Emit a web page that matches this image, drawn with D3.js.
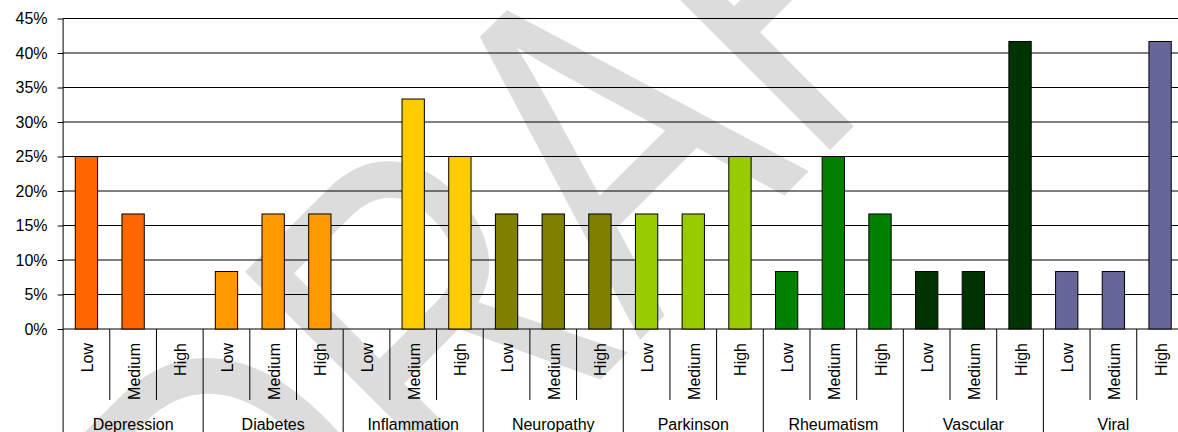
<!DOCTYPE html>
<html>
<head>
<meta charset="utf-8">
<script src="https://cdn.jsdelivr.net/npm/d3@7/dist/d3.min.js"></script>
<style>
  body { margin: 0; background: #fff; }
  text { font-family: "Liberation Sans", Arial, sans-serif; }
</style>
</head>
<body>
<div id="chart"></div>
<script>
var groups = ["Depression", "Diabetes", "Inflammation", "Neuropathy", "Parkinson", "Rheumatism", "Vascular", "Viral"];
var levels = ["Low", "Medium", "High"];

// percentages per level (Low, Medium, High)
var depression   = [25, 16.67, 0];
var diabetes     = [8.33, 16.67, 16.67];
var inflammation = [0, 33.33, 25];
var neuropathy   = [16.67, 16.67, 16.67];
var parkinson    = [16.67, 16.67, 25];
var rheumatism   = [8.33, 25, 16.67];
var vascular     = [8.33, 8.33, 41.67];
var viral        = [8.33, 8.33, 41.67];

var groupColors = ["#FF6600", "#FF9900", "#FFCC00", "#808000", "#99CC00", "#008000", "#003300", "#666699"];
var yTicks = [0, 5, 10, 15, 20, 25, 30, 35, 40, 45];

var series = [depression, diabetes, inflammation, neuropathy, parkinson, rheumatism, vascular, viral];

var data = [];
groups.forEach(function(g, i) {
    levels.forEach(function(l, j) {
        data.push({group: g, level: l, value: series[i][j], color: groupColors[i]});
    });
});

var W = 1178, H = 432;
var plotLeft = 63.1, plotRight = 63.1 + 8 * 140.04,
    plotBottom = 329, plotTop = 18.5;

var svg = d3.select("#chart").append("svg")
    .attr("width", W)
    .attr("height", H);

// watermark, sits behind everything (stretched like the wordart one)
svg.append("text")
    .attr("transform", "translate(272,708) rotate(-45) scale(0.756,1)")
    .style("font-size", "476px")
    .style("fill", "#dcdcdc")
    .text("DRAFT");

var x0 = d3.scaleBand()
    .domain(groups)
    .range([plotLeft, plotRight]);

var x1 = d3.scaleBand()
    .domain(levels)
    .range([0, x0.bandwidth()])
    .paddingInner(0.522)
    .paddingOuter(0.261);

var y = d3.scaleLinear()
    .domain([0, 45])
    .range([plotBottom, plotTop]);

// gridlines
svg.append("g")
    .selectAll("line")
    .data(yTicks)
    .enter().append("line")
    .attr("x1", plotLeft)
    .attr("x2", W)
    .attr("y1", d => y(d))
    .attr("y2", d => y(d))
    .style("stroke", "#000")
    .style("stroke-width", 1);

var yAxis = d3.axisLeft(y)
    .tickValues(yTicks)
    .tickFormat(d => d + "%")
    .tickSizeInner(5.5)
    .tickSizeOuter(0)
    .tickPadding(10);

var gy = svg.append("g")
    .attr("class", "y axis")
    .attr("transform", "translate(" + plotLeft + ",0)")
    .call(yAxis);
gy.select(".domain").remove();
gy.selectAll("line").style("stroke", "#000");
gy.selectAll("text")
    .style("font-size", "16px")
    .style("fill", "#000")
    .style("font-family", "'Liberation Sans', Arial, sans-serif");

// bars
svg.selectAll(".bar")
    .data(data)
    .enter().append("rect")
    .attr("class", "bar")
    .style("display", d => d.value === 0 ? "none" : null)
    .attr("x", d => x0(d.group) + x1(d.level))
    .attr("width", x1.bandwidth())
    .attr("y", d => y(d.value))
    .attr("height", d => y(0) - y(d.value))
    .style("fill", d => d.color)
    .style("stroke", "#000")
    .style("stroke-width", 1);

// y axis line, runs down through the category area
svg.append("line")
    .attr("x1", plotLeft).attr("x2", plotLeft)
    .attr("y1", plotTop).attr("y2", H)
    .style("stroke", "#000");

// level separators (short) and group separators (long)
var slotW = x0.bandwidth() / levels.length;
var cuts = [];
groups.forEach(function(g) {
    levels.forEach(function(l, j) {
        if (j > 0) cuts.push({x: x0(g) + j * slotW, long: false});
    });
    cuts.push({x: x0(g) + x0.bandwidth(), long: true});
});

svg.append("g")
    .selectAll("line")
    .data(cuts)
    .enter().append("line")
    .attr("x1", d => d.x).attr("x2", d => d.x)
    .attr("y1", plotBottom)
    .attr("y2", d => d.long ? H : 400)
    .style("stroke", "#000");

// level labels, rotated
svg.selectAll(".level")
    .data(data)
    .enter().append("text")
    .attr("class", "level")
    .attr("transform", d => "translate(" + (x0(d.group) + x1(d.level) + x1.bandwidth() / 2 + 6.5) + ",343) rotate(-90)")
    .style("text-anchor", "end")
    .style("font-size", "16px")
    .text(d => d.level);

// group labels
svg.selectAll(".group")
    .data(groups)
    .enter().append("text")
    .attr("class", "group")
    .attr("x", d => x0(d) + x0.bandwidth() / 2)
    .attr("y", 430)
    .style("text-anchor", "middle")
    .style("font-size", "16px")
    .text(d => d);
</script>
</body>
</html>
